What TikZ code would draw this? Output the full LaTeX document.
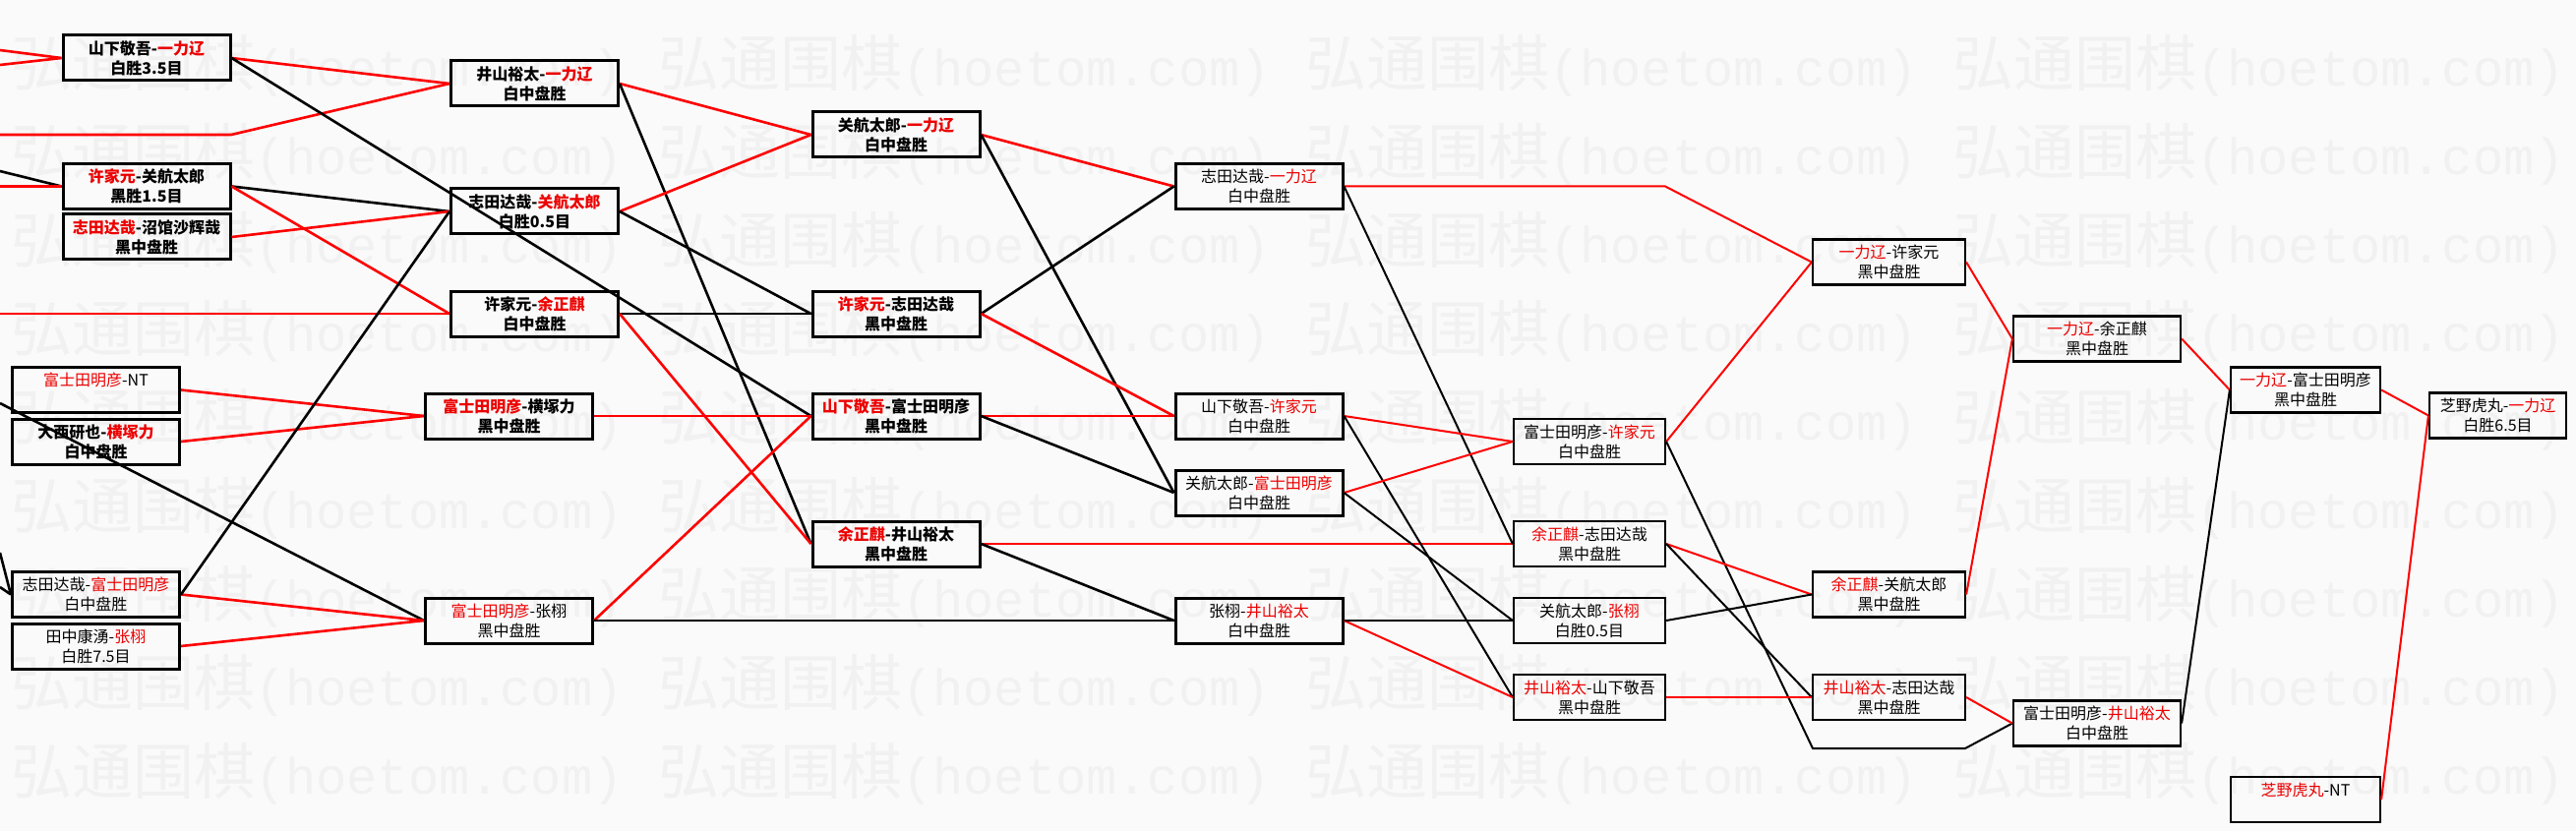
\documentclass[tikz,border=0pt]{standalone}
\usepackage{fontspec}
\setmainfont{Noto Sans CJK SC}
\newfontfamily\wmlat{Liberation Mono}
\definecolor{lred}{RGB}{255,0,0}
\definecolor{tred}{RGB}{236,0,0}
\definecolor{bgc}{RGB}{250,250,250}
\definecolor{wmc}{RGB}{241,241,241}
\newcommand\hl[1]{\textcolor{tred}{#1}}
\begin{document}
\begin{tikzpicture}[x=1pt,y=-1pt,
 bx/.style={draw=black,line width=3pt,minimum width=170pt,minimum height=46pt,inner sep=0pt,align=center,font=\fontsize{16}{20}\selectfont},
 bb/.style={bx,font=\fontsize{16}{20}\selectfont\bfseries},
 bt/.style={bx,line width=2.2pt},
 rl/.style={draw=lred,line width=2.6pt},
 bl/.style={draw=black,line width=2.6pt},
 rl2/.style={draw=lred,line width=2pt},
 bl2/.style={draw=black,line width=2pt},
 wmk/.style={text=wmc,anchor=west,inner sep=0pt}]
\useasboundingbox (0,0) rectangle (2619,845);
\fill[bgc] (0,0) rectangle (2619,845);
% watermark
\foreach \r [count=\i] in {67,157,247,337,427,517,607,697,787}
 \foreach \c [count=\j] in {11,669,1327,1985}
  \node[wmk] (wm-\i-\j) at (\c,\r) {{\fontsize{62}{62}\selectfont 弘通围棋}{\wmlat\fontsize{52}{52}\selectfont (hoetom.com)}};
% column A
\node[bb] (A1) at (149,59) {山下敬吾-\hl{一力辽}\\白胜3.5目};
\node[bb] (A2) at (149,189.5) {\hl{许家元}-关航太郎\\黑胜1.5目};
\node[bb] (A3) at (149,241) {\hl{志田达哉}-沼馆沙辉哉\\黑中盘胜};
\node[bx] (A4) at (97.5,396.5) {\hl{富士田明彦}-NT\\\phantom{白}};
\node[bb] (A5) at (97.5,449) {大西研也-\hl{横塚力}\\白中盘胜};
\node[bx] (A6) at (97.5,604.5) {志田达哉-\hl{富士田明彦}\\白中盘胜};
\node[bx] (A7) at (97.5,657) {田中康湧-\hl{张栩}\\白胜7.5目};
% column B
\node[bb] (B1) at (543.5,85) {井山裕太-\hl{一力辽}\\白中盘胜};
\node[bb] (B2) at (543.5,215) {志田达哉-\hl{关航太郎}\\白胜0.5目};
\node[bb] (B3) at (543.5,319) {许家元-\hl{余正麒}\\白中盘胜};
\node[bb] (B4) at (517.5,423) {\hl{富士田明彦}-横塚力\\黑中盘胜};
\node[bx] (B5) at (517.5,631) {\hl{富士田明彦}-张栩\\黑中盘胜};
% column C
\node[bb] (C1) at (911,137) {关航太郎-\hl{一力辽}\\白中盘胜};
\node[bb] (C2) at (911,319) {\hl{许家元}-志田达哉\\黑中盘胜};
\node[bb] (C3) at (911,423) {\hl{山下敬吾}-富士田明彦\\黑中盘胜};
\node[bb] (C4) at (911,553) {\hl{余正麒}-井山裕太\\黑中盘胜};
% column D
\node[bx] (D1) at (1280,189.5) {志田达哉-\hl{一力辽}\\白中盘胜};
\node[bx] (D2) at (1280,423) {山下敬吾-\hl{许家元}\\白中盘胜};
\node[bx] (D3) at (1280,501) {关航太郎-\hl{富士田明彦}\\白中盘胜};
\node[bx] (D4) at (1280,631) {张栩-\hl{井山裕太}\\白中盘胜};
% column E
\node[bt,minimum width=154pt] (E1) at (1616,449) {富士田明彦-\hl{许家元}\\白中盘胜};
\node[bt,minimum width=154pt] (E2) at (1616,553) {\hl{余正麒}-志田达哉\\黑中盘胜};
\node[bt,minimum width=154pt] (E3) at (1616,631) {关航太郎-\hl{张栩}\\白胜0.5目};
\node[bt,minimum width=154pt] (E4) at (1616,709) {\hl{井山裕太}-山下敬吾\\黑中盘胜};
% column F
\node[bt,minimum width=155pt] (F1) at (1920.5,266.5) {\hl{一力辽}-许家元\\黑中盘胜};
\node[bt,minimum width=155pt] (F2) at (1920.5,604.5) {\hl{余正麒}-关航太郎\\黑中盘胜};
\node[bt,minimum width=155pt] (F3) at (1920.5,709) {\hl{井山裕太}-志田达哉\\黑中盘胜};
% column G
\node[bt] (G1) at (2132,344.5) {\hl{一力辽}-余正麒\\黑中盘胜};
\node[bt] (G2) at (2132,735.5) {富士田明彦-\hl{井山裕太}\\白中盘胜};
% column H
\node[bt,minimum width=152pt] (H1) at (2344,396.5) {\hl{一力辽}-富士田明彦\\黑中盘胜};
\node[bt,minimum width=152pt] (H2) at (2344,813) {\hl{芝野虎丸}-NT\\\phantom{白}};
% column I
\node[bt,minimum width=139pt] (I1) at (2539.5,422.5) {芝野虎丸-\hl{一力辽}\\白胜6.5目};
% free ends and bends
\coordinate (l1) at (0,51);
\coordinate (l2) at (0,66);
\coordinate (l3) at (0,137);
\coordinate (k3) at (235,137);
\coordinate (l4) at (0,174);
\coordinate (l5) at (0,189.5);
\coordinate (l6) at (0,319);
\coordinate (l7) at (0,410);
\coordinate (l8) at (0,562);
\coordinate (l9) at (0,597);
\coordinate (kd) at (1693,189.5);
\coordinate (ke1) at (1843,761);
\coordinate (ke2) at (1998,761);
% connectors from the left edge
\draw[rl] (l1) -- (A1.west);
\draw[rl] (l2) -- (A1.west);
\draw[rl] (l3) -- (k3) -- (B1.west);
\draw[bl] (l4) -- (A2.west);
\draw[rl] (l5) -- (A2.west);
\draw[rl] (l6) -- (B3.west);
\draw[bl] (l7) -- (B5.west);
\draw[bl] (l8) -- (A6.west);
\draw[bl] (l9) -- (A6.west);
% A -> B
\draw[rl] (A1.east) -- (B1.west);
\draw[bl] (A1.east) -- (C3.west);
\draw[bl] (A2.east) -- (B2.west);
\draw[rl] (A2.east) -- (B3.west);
\draw[rl] (A3.east) -- (B2.west);
\draw[rl] (A4.east) -- (B4.west);
\draw[rl] (A5.east) -- (B4.west);
\draw[rl] (A6.east) -- (B5.west);
\draw[bl] (A6.east) -- (B2.west);
\draw[rl] (A7.east) -- (B5.west);
% B -> C
\draw[rl] (B1.east) -- (C1.west);
\draw[bl] (B1.east) -- (C4.west);
\draw[rl] (B2.east) -- (C1.west);
\draw[bl] (B2.east) -- (C2.west);
\draw[bl] (B3.east) -- (C2.west);
\draw[rl] (B3.east) -- (C4.west);
\draw[rl] (B4.east) -- (C3.west);
\draw[rl] (B5.east) -- (C3.west);
\draw[bl] (B5.east) -- (D4.west);
% C -> D
\draw[rl] (C1.east) -- (D1.west);
\draw[bl] (C1.east) -- (D3.west);
\draw[bl] (C2.east) -- (D1.west);
\draw[rl] (C2.east) -- (D2.west);
\draw[rl] (C3.east) -- (D2.west);
\draw[bl] (C3.east) -- (D3.west);
\draw[rl] (C4.east) -- (E2.west);
\draw[bl] (C4.east) -- (D4.west);
% D -> E
\draw[rl2] (D1.east) -- (kd) -- (F1.west);
\draw[bl2] (D1.east) -- (E2.west);
\draw[rl2] (D2.east) -- (E1.west);
\draw[bl2] (D2.east) -- (E4.west);
\draw[rl2] (D3.east) -- (E1.west);
\draw[bl2] (D3.east) -- (E3.west);
\draw[rl2] (D4.east) -- (E4.west);
\draw[bl2] (D4.east) -- (E3.west);
% E -> F
\draw[rl2] (E1.east) -- (F1.west);
\draw[bl2] (E1.east) -- (ke1) -- (ke2) -- (G2.west);
\draw[rl2] (E2.east) -- (F2.west);
\draw[bl2] (E2.east) -- (F3.west);
\draw[bl2] (E3.east) -- (F2.west);
\draw[rl2] (E4.east) -- (F3.west);
% F -> G -> H -> I
\draw[rl2] (F1.east) -- (G1.west);
\draw[rl2] (F2.east) -- (G1.west);
\draw[rl2] (F3.east) -- (G2.west);
\draw[rl2] (G1.east) -- (H1.west);
\draw[bl2] (G2.east) -- (H1.west);
\draw[rl2] (H1.east) -- (I1.west);
\draw[rl2] (H2.east) -- (I1.west);
\end{tikzpicture}
\end{document}
